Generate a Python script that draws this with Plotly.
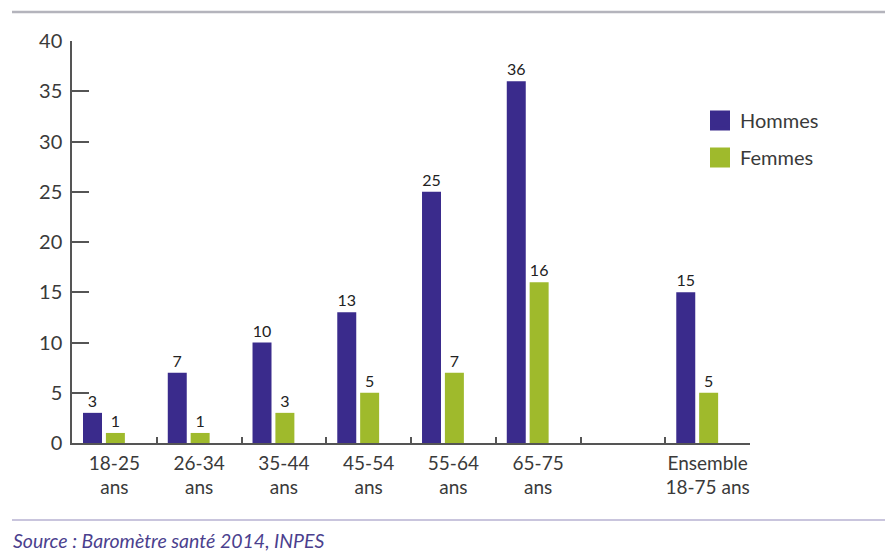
import plotly.graph_objects as go

categories = ["18-25<br>ans", "26-34<br>ans", "35-44<br>ans", "45-54<br>ans",
              "55-64<br>ans", "65-75<br>ans", " ", "Ensemble<br>18-75 ans"]
bar_categories = ["18-25<br>ans", "26-34<br>ans", "35-44<br>ans", "45-54<br>ans",
                  "55-64<br>ans", "65-75<br>ans", "Ensemble<br>18-75 ans"]
hommes = [3, 7, 10, 13, 25, 36, 15]
femmes = [1, 1, 3, 5, 7, 16, 5]
y_ticks = [0, 5, 10, 15, 20, 25, 30, 35, 40]
source_text = "Source : Baromètre santé 2014, INPES"

C_H = "#3a2b8c"
C_F = "#9fba2c"
TXT = "#3a3a3a"
AX = "#555555"
FONT = "Lato, 'Open Sans', sans-serif"

# page body has an 8px margin; work in window pixels and shift
OFF = 8
W, H = 893 - OFF, 553 - OFF
L, R, T, B = 72 - OFF, 750 - OFF, 41 - OFF, 443 - OFF

def px_x(p):
    return (p - OFF - L) / (R - L)

def px_y(p):
    return (B - (p - OFF)) / (B - T)

fig = go.Figure()
fig.add_trace(go.Bar(
    x=bar_categories, y=hommes, name="Hommes", marker=dict(color=C_H, line=dict(width=0)),
    width=0.224, offset=-0.37, text=hommes, textposition="outside",
    textfont=dict(size=16, color="#222222", family=FONT), cliponaxis=False,
    showlegend=False, constraintext="none"))
fig.add_trace(go.Bar(
    x=bar_categories, y=femmes, name="Femmes", marker=dict(color=C_F, line=dict(width=0)),
    width=0.224, offset=-0.1, text=femmes, textposition="outside",
    textfont=dict(size=16, color="#222222", family=FONT), cliponaxis=False,
    showlegend=False, constraintext="none"))
# legend entries
fig.add_trace(go.Scatter(x=[None], y=[None], mode="markers", name="Hommes",
                         marker=dict(symbol="square", size=20, color=C_H,
                                     line=dict(color=C_H, width=4)), legendgroup="h"))
fig.add_trace(go.Scatter(x=[None], y=[None], mode="markers", name="Femmes",
                         marker=dict(symbol="square", size=20, color=C_F,
                                     line=dict(color=C_F, width=4)), legendgroup="f"))

fig.update_layout(
    width=W, height=H,
    margin=dict(l=L, r=W - R, t=T, b=H - B, autoexpand=False),
    paper_bgcolor="white", plot_bgcolor="white",
    barmode="overlay",
    font=dict(family=FONT, color=TXT),
    legend=dict(x=px_x(700), y=px_y(101), xanchor="left", yanchor="top",
                font=dict(size=20, color=TXT, family=FONT), itemsizing="trace",
                tracegroupgap=8, bgcolor="rgba(0,0,0,0)"),
    xaxis=dict(type="category", categoryorder="array", categoryarray=categories,
               range=[-0.5, len(categories) - 0.5], tickangle=0,
               showline=True, linecolor=AX, linewidth=1.5,
               ticks="inside", tickson="boundaries", ticklen=6, tickcolor=AX, tickwidth=1.5,
               tickfont=dict(size=19, color=TXT, family=FONT), showgrid=False, zeroline=False,
               ticklabelstandoff=2),
    yaxis=dict(range=[0, 40], tickvals=y_ticks, showline=True, linecolor=AX, linewidth=1.5,
               ticks="inside", ticklen=17, tickcolor=AX, tickwidth=1.5,
               tickfont=dict(size=20, color=TXT, family=FONT), showgrid=False, zeroline=False,
               ticklabelstandoff=4),
)

# decorative frame lines
fig.add_shape(type="line", xref="paper", yref="paper", x0=px_x(12), x1=px_x(893),
              y0=px_y(12), y1=px_y(12), line=dict(color="#b4b4bc", width=2.5))
fig.add_shape(type="line", xref="paper", yref="paper", x0=px_x(12), x1=px_x(893),
              y0=px_y(520), y1=px_y(520), line=dict(color="#c9c5dd", width=2))

fig.add_annotation(text="<i>" + source_text + "</i>", xref="paper", yref="paper",
                   x=px_x(11), y=px_y(540), xanchor="left", yanchor="middle", showarrow=False,
                   font=dict(size=19.5, color="#4b3f8e", family=FONT))

fig.write_html("out.html")
